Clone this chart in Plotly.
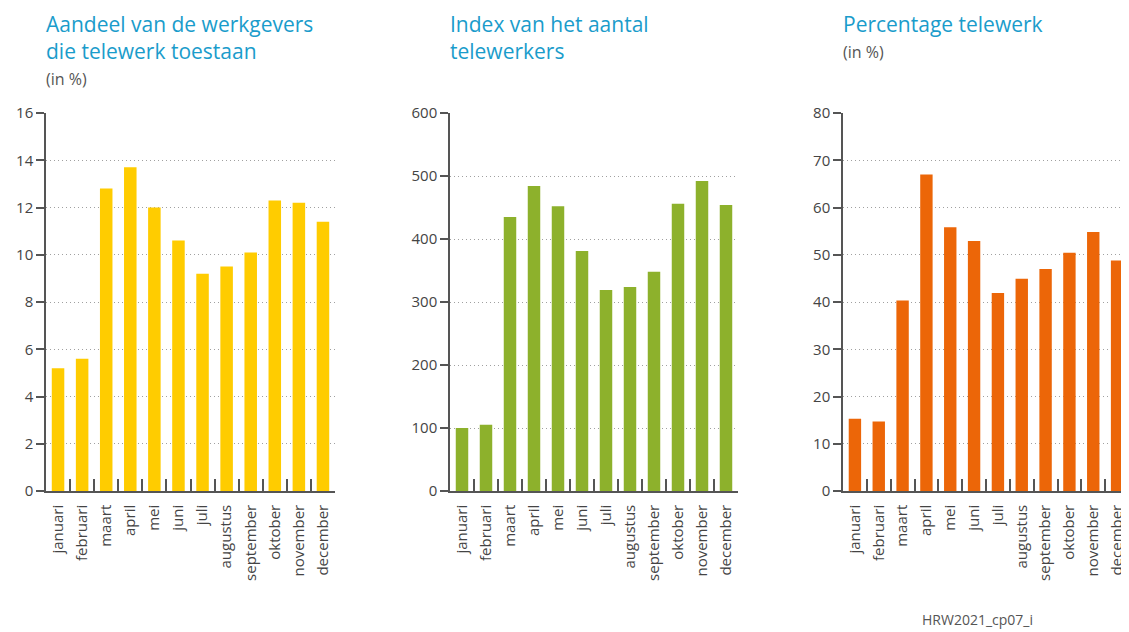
import plotly.graph_objects as go
from plotly.subplots import make_subplots

maanden = ["januari", "februari", "maart", "april", "mei", "juni", "juli",
           "augustus", "september", "oktober", "november", "december"]
werkgevers = [5.2, 5.6, 12.8, 13.7, 12.0, 10.6, 9.2, 9.5, 10.1, 12.3, 12.2, 11.4]
index_telewerkers = [100, 105, 435, 484, 452, 381, 319, 324, 348, 456, 492, 454]
pct_telewerk = [15.3, 14.7, 40.3, 67.0, 55.8, 52.9, 41.9, 44.9, 47.0, 50.4, 54.8, 48.8]

titels = ["Aandeel van de werkgevers<br>die telewerk toestaan",
          "Index van het aantal<br>telewerkers",
          "Percentage telewerk"]
subtitels = ["(in %)", "", "(in %)"]
kleuren = ["#FFCC00", "#8DB12C", "#EC6608"]
ranges = [(16, 2), (600, 100), (80, 10)]
series = [werkgevers, index_telewerkers, pct_telewerk]

# de pagina heeft een body-marge van 8px, dus de figuur is 8px kleiner
OFF = 8
W, H = 1129 - OFF, 632 - OFF
FONT = "Open Sans"
grijs = "#555555"
blauw = "#1A9CCB"


def px_x(p):
    return (p - OFF) / W


def px_y(p):
    return 1 - (p - OFF) / H


fig = make_subplots(rows=1, cols=3)

doms = [(46, 335), (450, 738), (843, 1129)]

for i, (vals, kleur, (top, stap)) in enumerate(zip(series, kleuren, ranges)):
    fig.add_trace(go.Bar(x=maanden, y=vals, marker_color=kleur, marker_line_width=0,
                         showlegend=False), row=1, col=i + 1)
    xa = "xaxis" if i == 0 else f"xaxis{i + 1}"
    ya = "yaxis" if i == 0 else f"yaxis{i + 1}"
    fig.layout[xa].update(domain=[px_x(doms[i][0]), min(px_x(doms[i][1]), 1)],
                          automargin=False,
                          showline=True, linecolor=grijs, linewidth=1.5,
                          ticks="inside", tickson="boundaries", ticklen=12,
                          tickcolor=grijs, tickwidth=1.5, tickangle=-90,
                          ticklabelstandoff=6,
                          tickfont=dict(family=FONT, size=15, color="#444"),
                          showgrid=False)
    fig.layout[ya].update(domain=[px_y(491), px_y(113)], range=[0, top], dtick=stap,
                          automargin=False,
                          showline=True, linecolor=grijs, linewidth=1.5,
                          ticks="outside", ticklen=8, tickcolor=grijs, tickwidth=1.5,
                          tickfont=dict(family=FONT, size=15, color="#444"),
                          showgrid=True, gridcolor="#a0a0a0", griddash="1px,3px",
                          gridwidth=1, zeroline=False)
    x_links = px_x(doms[i][0] - 2)
    fig.add_annotation(xref="paper", yref="paper", x=x_links, y=px_y(OFF),
                       xanchor="left", yanchor="top", align="left", showarrow=False,
                       text=titels[i], font=dict(family=FONT, size=21, color=blauw))
    if subtitels[i]:
        n = titels[i].count("<br>") + 1
        fig.add_annotation(xref="paper", yref="paper", x=x_links,
                           y=px_y(12 + 27 * n), xanchor="left", yanchor="top",
                           showarrow=False, text=subtitels[i],
                           font=dict(family=FONT, size=16, color=grijs))

fig.add_annotation(xref="paper", yref="paper", x=px_x(920), y=px_y(619),
                   xanchor="left", yanchor="middle", showarrow=False,
                   text="HRW2021_cp07_i", font=dict(family=FONT, size=14, color=grijs))

fig.update_layout(width=W, height=H, bargap=0.48, plot_bgcolor="white",
                  paper_bgcolor="white", margin=dict(l=0, r=0, t=0, b=0))

fig.write_html("out.html")
